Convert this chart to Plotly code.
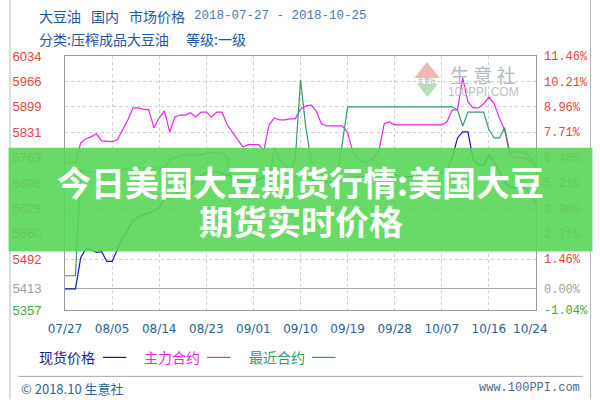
import pandas as pd
import plotly.graph_objects as go

# ---------------- data ----------------
start_date = "2018-07-27"
end_date = "2018-10-25"
dates = pd.date_range(start_date, end_date, freq="D")

base_price = 5413

spot_values = [  # 现货价格
    5413, 5413, 5413, 5496, 5520, 5518, 5510, 5512, 5486, 5486,
    5518, 5550, 5571, 5595, 5605, 5611, 5616, 5619, 5629, 5650,
    5658, 5664, 5677, 5690, 5690, 5704, 5717, 5722, 5725, 5725,
    5722, 5717, 5712, 5704, 5698, 5698, 5704, 5704, 5712, 5717,
    5725, 5722, 5712, 5704, 5712, 5717, 5712, 5704, 5698, 5698,
    5698, 5698, 5698, 5704, 5704, 5704, 5712, 5712, 5717, 5717,
    5722, 5722, 5717, 5717, 5712, 5712, 5712, 5712, 5717, 5717,
    5717, 5722, 5722, 5730, 5762, 5815, 5831, 5831, 5757, 5744,
    5744, 5768, 5752, 5725, 5698, 5685, 5682, 5682, 5682, 5661,
    5640,
]

main_values = [  # 主力合约
    5749, 5749, 5749, 5802, 5813, 5818, 5826, 5807, 5805, 5805,
    5810, 5837, 5863, 5895, 5895, 5892, 5890, 5842, 5868, 5887,
    5831, 5871, 5876, 5876, 5882, 5871, 5884, 5884, 5871, 5884,
    5884, 5850, 5829, 5810, 5791, 5797, 5797, 5797, 5781, 5850,
    5868, 5863, 5863, 5866, 5866, 5892, 5900, 5903, 5887, 5853,
    5847, 5847, 5847, 5847, 5829, 5778, 5757, 5752, 5752, 5762,
    5783, 5853, 5858, 5850, 5850, 5850, 5850, 5850, 5850, 5850,
    5850, 5850, 5850, 5858, 5890, 5890, 5975, 5911, 5895, 5895,
    5906, 5924, 5906, 5868, 5837, 5770, 5762, 5762, 5762, 5752,
    5736,
]

near_values = [  # 最近合约
    5448, 5448, 5448, 5730, 5725, 5725, 5725, 5725, 5725, 5725,
    5725, 5730, 5735, 5735, 5735, 5735, 5735, 5735, 5735, 5735,
    5757, 5762, 5770, 5770, 5770, 5770, 5770, 5775, 5775, 5775,
    5775, 5762, 5690, 5664, 5650, 5658, 5658, 5658, 5658, 5690,
    5789, 5757, 5744, 5725, 5757, 5970, 5845, 5757, 5730, 5717,
    5717, 5717, 5717, 5802, 5898, 5898, 5898, 5898, 5898, 5898,
    5898, 5898, 5898, 5898, 5898, 5898, 5898, 5898, 5898, 5898,
    5898, 5898, 5898, 5898, 5898, 5890, 5847, 5884, 5884, 5884,
    5884, 5837, 5815, 5815, 5842, 5778, 5778, 5778, 5778, 5762,
    5741,
]

pct_ticks = [11.46, 10.21, 8.96, 7.71, 6.46, 5.21, 3.96, 2.71, 1.46, 0.0, -1.04]
left_ticklabels = ["6034", "5966", "5899", "5831", "5763", "5695", "5628",
                   "5560", "5492", "5413", "5357"]
right_ticklabels = ["11.46%", "10.21%", "8.96%", "7.71%", "6.46%", "5.21%",
                    "3.96%", "2.71%", "1.46%", "0.00%", "-1.04%"]

x_tick_dates = ["2018-07-27", "2018-08-05", "2018-08-14", "2018-08-23",
                "2018-09-01", "2018-09-10", "2018-09-19", "2018-09-28",
                "2018-10-07", "2018-10-16"]
x_ticklabels = ["07/27", "08/05", "08/14", "08/23", "09/01", "09/10",
                "09/19", "09/28", "10/07", "10/16"]
last_tick_date = "2018-10-24"
last_ticklabel = "10/24"

series_names = ["现货价格", "主力合约", "最近合约"]

# ---------------- style ----------------
W, H = 600, 400
L, R, T, B = 58, 542, 56, 310.5
RED, GRAY, GREEN = "#e8443c", "#a0a0a0", "#3faa3f"
C_SPOT, C_MAIN, C_NEAR = "#1010c8", "#ee22ee", "#339966"
CJK = "Noto Sans CJK SC"


def px(x):
    return (x - L) / (R - L)


def py(y):
    return (B - y) / (B - T)


def col(p):
    return RED if p > 0 else (GRAY if p == 0 else GREEN)


fig = go.Figure()
for vals, name, c in [(spot_values, series_names[0], C_SPOT),
                      (main_values, series_names[1], C_MAIN),
                      (near_values, series_names[2], C_NEAR)]:
    fig.add_trace(go.Scatter(x=dates, y=vals, mode="lines", name=name,
                             line=dict(color=c, width=1.2), hoverinfo="skip",
                             showlegend=False))

# invisible trace to anchor the percent axis
fig.add_trace(go.Scatter(x=[dates[0]], y=[0], yaxis="y2", mode="markers",
                         marker=dict(opacity=0), hoverinfo="skip",
                         showlegend=False))

ymin = base_price * (1 + pct_ticks[-1] / 100)
ymax = base_price * (1 + pct_ticks[0] / 100)

fig.update_layout(
    width=W, height=H,
    margin=dict(l=L, r=W - R, t=T, b=H - B, pad=0),
    paper_bgcolor="white", plot_bgcolor="white",
    hovermode=False,
    xaxis=dict(
        type="date", range=[start_date, end_date],
        tickvals=x_tick_dates, ticktext=x_ticklabels,
        showgrid=True, gridcolor="#cfcfcf", griddash="dot", gridwidth=1,
        showline=True, linecolor="#9a9a9a", linewidth=1, mirror=True,
        ticks="", ticklabelstandoff=8,
        tickfont=dict(family="DejaVu Sans", size=12, color="#2a5f9a"),
        zeroline=False,
    ),
    yaxis=dict(
        range=[ymin, ymax],
        tickvals=[base_price * (1 + p / 100) for p in pct_ticks],
        ticktext=[f"<span style='color:{col(p)}'>{t}</span>"
                  for p, t in zip(pct_ticks, left_ticklabels)],
        showgrid=True, gridcolor="#cfcfcf", griddash="dot", gridwidth=1,
        showline=True, linecolor="#9a9a9a", linewidth=1, mirror=True,
        ticks="", ticklabelstandoff=20,
        tickfont=dict(family="Liberation Sans", size=13, color=RED),
        zeroline=False,
    ),
    yaxis2=dict(
        overlaying="y", side="right", range=[pct_ticks[-1], pct_ticks[0]],
        tickvals=pct_ticks,
        ticktext=[f"<span style='color:{col(p)}'>{t}</span>"
                  for p, t in zip(pct_ticks, right_ticklabels)],
        showgrid=False, zeroline=True, zerolinecolor="#a8a8a8",
        zerolinewidth=1, ticks="", ticklabelstandoff=7,
        tickfont=dict(family="Liberation Mono", size=12, color=RED),
    ),
)

shapes = []
ann = []


def text(t, x, y, size, color, family=CJK, xanchor="left", xref="paper"):
    ann.append(dict(x=px(x) if xref == "paper" else x, y=py(y), xref=xref,
                    yref="paper", text=t, showarrow=False, xanchor=xanchor,
                    yanchor="middle",
                    font=dict(family=family, size=size, color=color)))


# outer side borders and footer separator
shapes.append(dict(type="line", xref="paper", yref="paper", x0=px(1.5), x1=px(1.5),
                   y0=py(0), y1=py(400), line=dict(color="#b8b8b8", width=1)))
shapes.append(dict(type="line", xref="paper", yref="paper", x0=px(598), x1=px(598),
                   y0=py(0), y1=py(400), line=dict(color="#b8b8b8", width=1)))
shapes.append(dict(type="line", xref="paper", yref="paper", x0=px(10), x1=px(590),
                   y0=py(377), y1=py(377), line=dict(color="#a8a8a8", width=1)))

# watermark logo
shapes.append(dict(type="path", xref="paper", yref="paper",
                   path=f"M {px(417)},{py(78)} L {px(430)},{py(62)} L {px(443)},{py(78)} Z",
                   fillcolor="#f3b6b2", line=dict(width=0), layer="below"))
shapes.append(dict(type="path", xref="paper", yref="paper",
                   path=f"M {px(420)},{py(84)} L {px(441)},{py(84)} L {px(430.5)},{py(97)} Z",
                   fillcolor="#b6dcb8", line=dict(width=0), layer="below"))
text("生意社", 430, 81, 6, "#b0b0b0", xanchor="center")
text("生 意 社", 452, 74.5, 19, "#b3bac3")
text("100PPI.COM", 450, 92, 12, "#b8bfc8", family="Liberation Sans")

# header
for t, x, y in [("大豆油", 29, 16), ("国内", 83, 16), ("市场价格", 122, 16),
                ("分类:压榨成品大豆油", 29, 39), ("等级:一级", 180, 39)]:
    text(t, x, y, 14, "#2456a4")
text(f"{start_date} - {end_date}", 189, 16, 12.5, "#4a7bb5", family="Liberation Mono")

# last x label (10/24), placed at its own date without a grid line
text(last_ticklabel, last_tick_date, 329.5, 12, "#2a5f9a", family="DejaVu Sans",
     xanchor="center", xref="x")

# legend
for name, tx, lx, lc, tc in [(series_names[0], 29, 97, C_SPOT, "#1a1aa0"),
                             (series_names[1], 137, 204, C_MAIN, "#ee22ee"),
                             (series_names[2], 245, 312, C_NEAR, "#339966")]:
    text(name, tx, 358, 14, tc)
    shapes.append(dict(type="line", xref="paper", yref="paper", x0=px(lx),
                       x1=px(lx + 24), y0=py(358), y1=py(358),
                       line=dict(color=lc, width=1.2)))

# footer
text("© 2018.10 生意社", 11, 389, 13, "#2f62a0")
text("www.100PPI.com", 589, 389, 12, "#50698c", family="Liberation Mono",
     xanchor="right")

# green banner overlay
shapes.append(dict(type="rect", xref="paper", yref="paper", x0=px(0), x1=px(600),
                   y0=py(252), y1=py(148), fillcolor="rgba(88,214,88,0.9)",
                   line=dict(width=0), layer="above"))
text("<b>今日美国大豆期货行情:美国大豆</b>", 300, 181.5, 34, "white", xanchor="center")
text("<b>期货实时价格</b>", 300, 221, 34, "white", xanchor="center")

fig.update_layout(shapes=shapes, annotations=ann)
fig.write_html("out.html", config={"displayModeBar": False},
               post_script="document.body.style.margin='0px';")
